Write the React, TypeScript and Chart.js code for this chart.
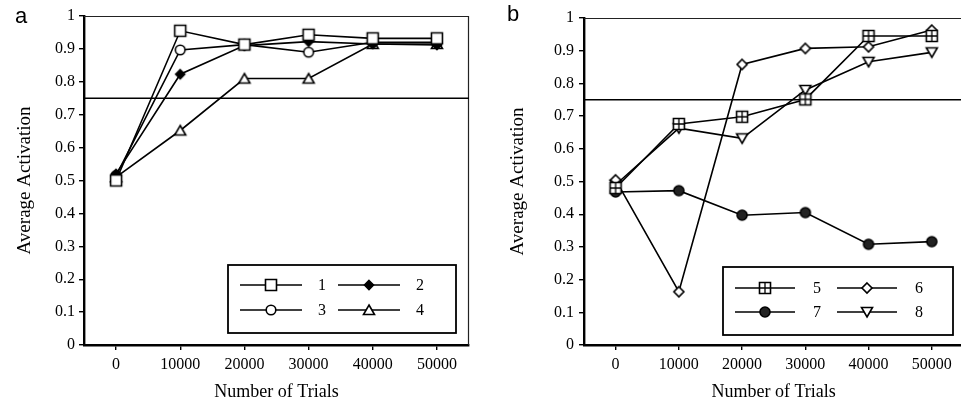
import React, { useEffect, useRef } from "react";
import { Chart, registerables } from "chart.js";

Chart.register(...registerables);

// ---------------- data ----------------
const TRIALS = [0, 10000, 20000, 30000, 40000, 50000];
const X_TICKS = [0, 10000, 20000, 30000, 40000, 50000];
const Y_TICKS = [0, 0.1, 0.2, 0.3, 0.4, 0.5, 0.6, 0.7, 0.8, 0.9, 1];
const X_RANGE = [-5000, 55000];
const THRESHOLD = 0.75;

const LABELS_A = ["1", "2", "3", "4"];
const SERIES_1 = [0.5, 0.955, 0.913, 0.943, 0.932, 0.932];
const SERIES_2 = [0.52, 0.823, 0.91, 0.922, 0.915, 0.912];
const SERIES_3 = [0.515, 0.897, 0.913, 0.89, 0.92, 0.92];
const SERIES_4 = [0.51, 0.652, 0.81, 0.81, 0.915, 0.915];

const LABELS_B = ["5", "6", "7", "8"];
const SERIES_5 = [0.48, 0.676, 0.698, 0.751, 0.945, 0.945];
const SERIES_6 = [0.505, 0.163, 0.858, 0.907, 0.912, 0.963];
const SERIES_7 = [0.468, 0.472, 0.397, 0.405, 0.308, 0.316];
const SERIES_8 = [0.49, 0.663, 0.632, 0.78, 0.866, 0.895];

const X_TITLE = "Number of Trials";
const Y_TITLE = "Average Activation";

// ---------------- styling helpers ----------------
const SERIF = "'Liberation Serif', 'Times New Roman', serif";

type MarkerKind =
  | "square"
  | "diamondFilled"
  | "circle"
  | "triangle"
  | "squareCross"
  | "diamond"
  | "circleFilled"
  | "triangleDown";

function makeMarker(kind: MarkerKind): HTMLCanvasElement {
  const S = 16;
  const c = document.createElement("canvas");
  c.width = S;
  c.height = S;
  const g = c.getContext("2d")!;
  const m = S / 2;
  g.lineWidth = 1.6;
  g.strokeStyle = "#000";
  g.fillStyle = "#fff";
  g.beginPath();
  switch (kind) {
    case "square":
    case "squareCross": {
      const h = 5.5;
      g.rect(m - h, m - h, 2 * h, 2 * h);
      g.fill();
      g.stroke();
      if (kind === "squareCross") {
        g.beginPath();
        g.lineWidth = 1.3;
        g.moveTo(m, m - h);
        g.lineTo(m, m + h);
        g.moveTo(m - h, m);
        g.lineTo(m + h, m);
        g.stroke();
      }
      break;
    }
    case "diamondFilled":
    case "diamond": {
      const h = kind === "diamond" ? 5 : 4.5;
      g.moveTo(m, m - h);
      g.lineTo(m + h, m);
      g.lineTo(m, m + h);
      g.lineTo(m - h, m);
      g.closePath();
      if (kind === "diamondFilled") g.fillStyle = "#000";
      g.fill();
      g.stroke();
      break;
    }
    case "circle":
    case "circleFilled": {
      g.arc(m, m, kind === "circleFilled" ? 5 : 4.8, 0, Math.PI * 2);
      if (kind === "circleFilled") g.fillStyle = "#222";
      g.fill();
      g.stroke();
      break;
    }
    case "triangle": {
      g.moveTo(m, m - 5);
      g.lineTo(m + 5.5, m + 4.5);
      g.lineTo(m - 5.5, m + 4.5);
      g.closePath();
      g.fill();
      g.stroke();
      break;
    }
    case "triangleDown": {
      g.moveTo(m, m + 5);
      g.lineTo(m + 5.5, m - 4.5);
      g.lineTo(m - 5.5, m - 4.5);
      g.closePath();
      g.fill();
      g.stroke();
      break;
    }
  }
  return c;
}

// legend drawn inside plot area as a boxed 2x2 grid
const boxLegendPlugin = {
  id: "boxLegend",
  afterDatasetsDraw(chart: any, _args: any, opts: any) {
    if (!opts || !opts.box) return;
    const { ctx } = chart;
    const [l, t, r, b] = opts.box;
    ctx.save();
    ctx.fillStyle = "#fff";
    ctx.fillRect(l, t, r - l, b - t);
    ctx.strokeStyle = "#000";
    ctx.lineWidth = 1.8;
    ctx.strokeRect(l, t, r - l, b - t);
    const items = chart.data.datasets.filter((d: any) => d.showInBox);
    items.forEach((ds: any, i: number) => {
      const row = Math.floor(i / 2);
      const col = i % 2;
      const x0 = l + opts.cols[col];
      const y = t + opts.rows[row];
      ctx.beginPath();
      ctx.strokeStyle = "#000";
      ctx.lineWidth = 1.5;
      ctx.moveTo(x0, y);
      ctx.lineTo(x0 + opts.lineLen, y);
      ctx.stroke();
      const mk = ds.pointStyle as HTMLCanvasElement;
      ctx.drawImage(mk, x0 + opts.lineLen / 2 - mk.width / 2, y - mk.height / 2);
      ctx.fillStyle = "#000";
      ctx.font = `16px ${SERIF}`;
      ctx.textAlign = "center";
      ctx.textBaseline = "middle";
      ctx.fillText(ds.label, x0 + opts.lineLen + opts.labelGap, y + 1);
    });
    ctx.restore();
  },
};

// thin top/right frame lines
const framePlugin = {
  id: "frame",
  beforeDatasetsDraw(chart: any) {
    const { ctx, chartArea } = chart;
    ctx.save();
    ctx.strokeStyle = "#222";
    ctx.lineWidth = 1.2;
    ctx.beginPath();
    ctx.moveTo(chartArea.left, chartArea.top + 0.5);
    ctx.lineTo(chartArea.right, chartArea.top + 0.5);
    ctx.moveTo(chartArea.right - 0.5, chartArea.top);
    ctx.lineTo(chartArea.right - 0.5, chartArea.bottom);
    ctx.stroke();
    ctx.restore();
  },
};

type PanelSpec = {
  labels: string[];
  series: number[][];
  markers: MarkerKind[];
  width: number;
  height: number;
  yAxisWidth: number;
  padTop: number;
  padRight: number;
  yTitlePad: number;
  yTickPad: number;
  legend: any;
};

function buildConfig(spec: PanelSpec): any {
  const datasets: any[] = spec.series.map((vals, i) => ({
    label: spec.labels[i],
    data: TRIALS.map((x, j) => ({ x, y: vals[j] })),
    borderColor: "#000",
    borderWidth: 1.6,
    pointStyle: makeMarker(spec.markers[i]),
    pointRadius: 5,
    showInBox: true,
    fill: false,
  }));
  datasets.push({
    label: "threshold",
    data: [
      { x: X_RANGE[0], y: THRESHOLD },
      { x: X_RANGE[1], y: THRESHOLD },
    ],
    borderColor: "#000",
    borderWidth: 1.7,
    pointRadius: 0,
    showInBox: false,
    fill: false,
  });

  return {
    type: "line",
    data: { datasets },
    plugins: [framePlugin, boxLegendPlugin],
    options: {
      animation: false,
      responsive: false,
      events: [],
      layout: {
        padding: { top: spec.padTop, right: spec.padRight, left: 0, bottom: 0 },
      },
      plugins: {
        legend: { display: false },
        tooltip: { enabled: false },
        boxLegend: spec.legend,
      },
      scales: {
        x: {
          type: "linear",
          min: X_RANGE[0],
          max: X_RANGE[1],
          afterBuildTicks: (s: any) => {
            s.ticks = X_TICKS.map((v) => ({ value: v }));
          },
          afterFit: (s: any) => {
            s.height = spec.height - 345;
          },
          ticks: {
            callback: (v: any) => String(v),
            font: { family: SERIF, size: 16 },
            color: "#000",
            padding: 5,
            maxRotation: 0,
            autoSkip: false,
          },
          grid: {
            display: true,
            drawOnChartArea: false,
            drawTicks: true,
            tickLength: 5,
            color: "#000",
            lineWidth: 1.4,
          },
          border: { display: true, color: "#000", width: 2.4 },
          title: {
            display: true,
            text: X_TITLE,
            font: { family: SERIF, size: 18 },
            color: "#000",
            padding: { top: 0, bottom: 4 },
          },
        },
        y: {
          type: "linear",
          min: 0,
          max: 1,
          afterBuildTicks: (s: any) => {
            s.ticks = Y_TICKS.map((v) => ({ value: v }));
          },
          afterFit: (s: any) => {
            s.width = spec.yAxisWidth;
          },
          ticks: {
            callback: (v: any) => String(Math.round(Number(v) * 10) / 10),
            font: { family: SERIF, size: 16 },
            color: "#000",
            padding: spec.yTickPad,
            autoSkip: false,
          },
          grid: {
            display: true,
            drawOnChartArea: false,
            drawTicks: true,
            tickLength: 5,
            color: "#000",
            lineWidth: 1.4,
          },
          border: { display: true, color: "#000", width: 2.4 },
          title: {
            display: true,
            text: Y_TITLE,
            font: { family: SERIF, size: 19 },
            color: "#000",
            padding: { top: spec.yTitlePad, bottom: 0 },
          },
        },
      },
    },
  };
}

function Panel({ spec, left }: { spec: PanelSpec; left: number }) {
  const ref = useRef<HTMLCanvasElement | null>(null);
  useEffect(() => {
    if (!ref.current) return;
    const chart = new Chart(ref.current, buildConfig(spec));
    return () => chart.destroy();
  }, [spec]);
  return (
    <canvas
      ref={ref}
      width={spec.width}
      height={spec.height}
      style={{
        position: "absolute",
        left,
        top: 0,
        width: spec.width,
        height: spec.height,
      }}
    />
  );
}

const SPEC_A: PanelSpec = {
  labels: LABELS_A,
  series: [SERIES_1, SERIES_2, SERIES_3, SERIES_4],
  markers: ["square", "diamondFilled", "circle", "triangle"],
  width: 480,
  height: 407,
  yAxisWidth: 84,
  padTop: 16,
  padRight: 11,
  yTitlePad: 14,
  yTickPad: 4,
  legend: {
    box: [228, 265, 456, 333],
    rows: [20, 45],
    cols: [12, 110],
    lineLen: 62,
    labelGap: 20,
  },
};

const SPEC_B: PanelSpec = {
  labels: LABELS_B,
  series: [SERIES_5, SERIES_6, SERIES_7, SERIES_8],
  markers: ["squareCross", "diamond", "circleFilled", "triangleDown"],
  width: 490,
  height: 407,
  yAxisWidth: 104,
  padTop: 18,
  padRight: 5,
  yTitlePad: 27,
  yTickPad: 5,
  legend: {
    box: [243, 267, 473, 335],
    rows: [21, 45],
    cols: [12, 114],
    lineLen: 60,
    labelGap: 22,
  },
};

export default function App() {
  return (
    <div
      style={{
        position: "absolute",
        left: 0,
        top: 0,
        width: 961,
        height: 407,
        overflow: "hidden",
        background: "#fff",
      }}
    >
      <Panel spec={SPEC_A} left={0} />
      <Panel spec={SPEC_B} left={480} />
      <div
        style={{
          position: "absolute",
          left: 15,
          top: 3,
          fontFamily: "'Liberation Sans', Arial, sans-serif",
          fontSize: 22,
          lineHeight: "26px",
          color: "#000",
        }}
      >
        a
      </div>
      <div
        style={{
          position: "absolute",
          left: 507,
          top: 1,
          fontFamily: "'Liberation Sans', Arial, sans-serif",
          fontSize: 22,
          lineHeight: "26px",
          color: "#000",
        }}
      >
        b
      </div>
    </div>
  );
}
